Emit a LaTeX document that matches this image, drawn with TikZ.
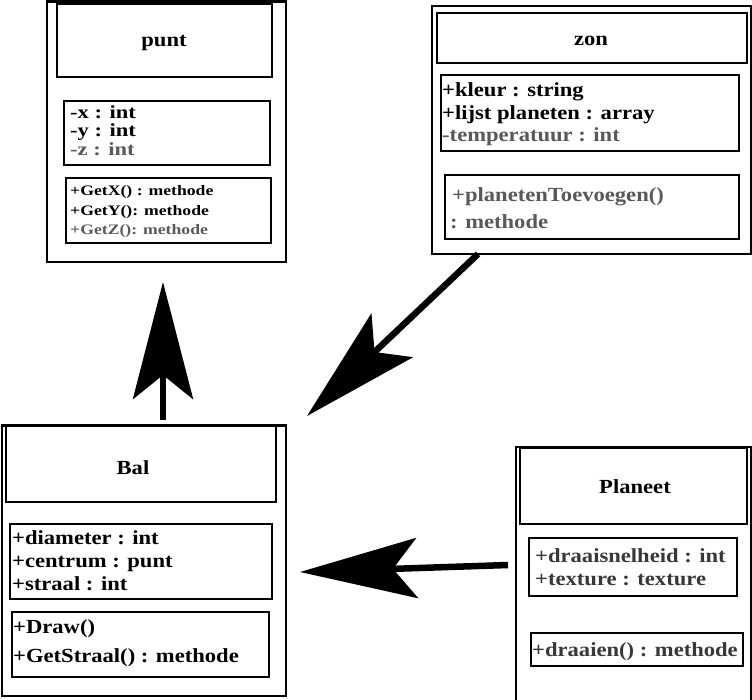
\documentclass[tikz,border=0pt]{standalone}
\usepackage{fontspec}
\setmainfont{Liberation Serif}
\newfontfamily\wfont[FakeStretch=1.13]{Liberation Serif}
\newfontfamily\wwfont[FakeStretch=1.22]{Liberation Serif}
\usetikzlibrary{arrows.meta,fit}
\begin{document}
\begin{tikzpicture}[x=1pt,y=-1pt,
  box/.style={draw, line width=2.5pt, inner sep=0pt},
  ibox/.style={draw, line width=2.2pt, inner sep=0pt},
  ttl/.style={font=\wfont\fontsize{20}{23}\selectfont\bfseries, inner sep=0pt, anchor=base},
  txt/.style={font=\wfont\fontsize{20}{23}\selectfont\bfseries, inner sep=0pt, anchor=base west},
  ptxt/.style={font=\wwfont\fontsize{18.5}{20}\selectfont\bfseries, inner sep=0pt, anchor=base west},
  stxt/.style={font=\wwfont\fontsize{14.5}{16}\selectfont\bfseries, inner sep=0pt, anchor=base west},
  grey/.style={text=black!65},
  dgrey/.style={text=black!78},
  conn/.style={line width=6.5pt, -{Stealth[length=117pt, width=60pt, inset=24pt]}}
]
\useasboundingbox (0,0) rectangle (752,700);

% ---------- punt ----------
\node[box, fit={(47,1.5) (286,262)}] (punt) {};
\node[ibox, fit={(57,4) (272,77)}] (puntT) {};
\node[ttl] (puntN) at (164,47) {punt};
\node[ibox, fit={(64,101) (270,165)}] (puntA) {};
\node[ptxt] (pa1) at (70,119) {-x : int};
\node[ptxt] (pa2) at (70,137) {-y : int};
\node[ptxt, grey] (pa3) at (70,156) {-z : int};
\node[ibox, fit={(66,178) (271,243)}] (puntM) {};
\node[stxt] (pm1) at (70,196) {+GetX() : methode};
\node[stxt] (pm2) at (70,216) {+GetY(): methode};
\node[stxt, grey] (pm3) at (70,235) {+GetZ(): methode};

% ---------- zon ----------
\node[box, fit={(432,6) (751,254)}] (zon) {};
\node[ibox, fit={(437,13) (747,63)}] (zonT) {};
\node[ttl] (zonN) at (591,46) {zon};
\node[ibox, fit={(441,75) (739,151)}] (zonA) {};
\node[txt] (za1) at (442,97) {+kleur : string};
\node[txt] (za2) at (442,120) {+lijst planeten : array};
\node[txt, grey] (za3) at (442,142) {-temperatuur : int};
\node[ibox, fit={(445,175) (739,239)}] (zonM) {};
\node[txt, grey] (zm1) at (452,202) {+planetenToevoegen()};
\node[txt, grey] (zm2) at (450,229) {: methode};

% ---------- Bal ----------
\node[box, fit={(2,425.5) (286,696)}] (bal) {};
\node[ibox, fit={(6,426) (276,502)}] (balT) {};
\node[ttl] (balN) at (133,474) {Bal};
\node[ibox, fit={(10,524) (272,599)}] (balA) {};
\node[txt] (ba1) at (12,544) {+diameter : int};
\node[txt] (ba2) at (12,567) {+centrum : punt};
\node[txt] (ba3) at (12,590) {+straal : int};
\node[ibox, fit={(12,612) (269,677)}] (balM) {};
\node[txt] (bm1) at (13,633) {+Draw()};
\node[txt] (bm2) at (13,662) {+GetStraal() : methode};

% ---------- Planeet ----------
\node[box, fit={(516,447) (751,705)}] (planeet) {};
\node[ibox, fit={(520,448) (747,524)}] (planeetT) {};
\node[ttl] (planeetN) at (635,493) {Planeet};
\node[ibox, fit={(529,538) (737,596)}] (planeetA) {};
\node[txt, dgrey] (pla1) at (535,562) {+draaisnelheid : int};
\node[txt, dgrey] (pla2) at (535,585) {+texture : texture};
\node[ibox, fit={(531,633) (743,666)}] (planeetM) {};
\node[txt, dgrey] (plm1) at (532,656) {+draaien() : methode};

% ---------- connectors ----------
\coordinate (upS) at (163,420);
\coordinate (upE) at (163,282);
\coordinate (dgS) at (478,254);
\coordinate (dgE) at (307,416);
\coordinate (lfS) at (508,565);
\coordinate (lfE) at (300,572);
\draw[conn] (upS) -- (upE);
\draw[conn] (dgS) -- (dgE);
\draw[conn] (lfS) -- (lfE);
\end{tikzpicture}
\end{document}
